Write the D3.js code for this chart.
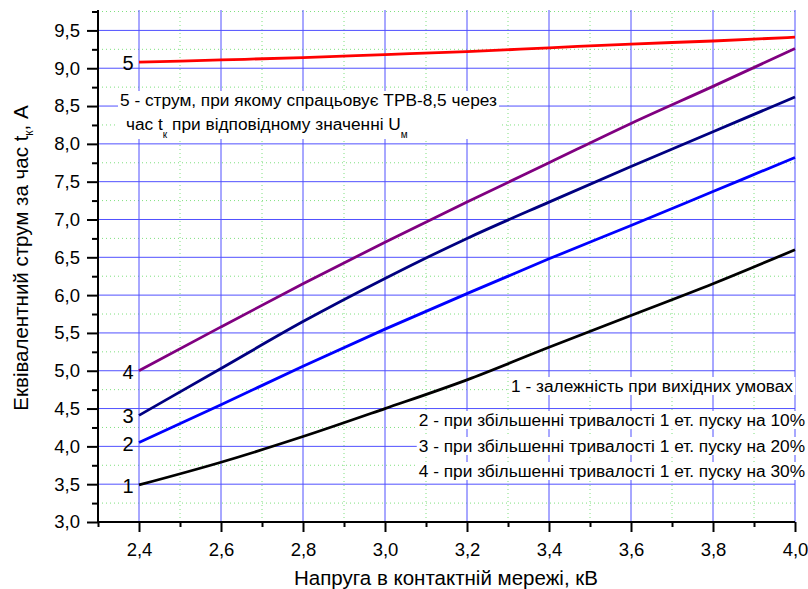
<!DOCTYPE html>
<html>
<head>
<meta charset="utf-8">
<script src="https://cdn.jsdelivr.net/npm/d3@7"></script>
<style>
    body { margin: 0; background: #fff; }
    svg { display: block; font-family: "Liberation Sans", Arial, sans-serif; }
</style>
</head>
<body>
<div id="chart"></div>
<script>
// data
const voltage = [2.4, 2.6, 2.8, 3.0, 3.2, 3.4, 3.6, 3.8, 4.0];
const current1 = [3.49, 3.79, 4.13, 4.50, 4.88, 5.31, 5.73, 6.15, 6.60];
const current2 = [4.05, 4.55, 5.06, 5.55, 6.02, 6.48, 6.92, 7.37, 7.82];
const current3 = [4.41, 5.03, 5.65, 6.22, 6.75, 7.23, 7.70, 8.16, 8.62];
const current4 = [5.00, 5.58, 6.15, 6.70, 7.23, 7.75, 8.27, 8.76, 9.26];
const current5 = [9.08, 9.11, 9.14, 9.18, 9.22, 9.27, 9.32, 9.36, 9.41];

const seriesNames = ["1", "2", "3", "4", "5"];
const seriesValues = [current1, current2, current3, current4, current5];
const seriesColors = ["#000000", "#0000ff", "#000080", "#800080", "#ff0000"];

const xTicks = [2.4, 2.6, 2.8, 3.0, 3.2, 3.4, 3.6, 3.8, 4.0];
const xMinorTicks = [2.3, 2.5, 2.7, 2.9, 3.1, 3.3, 3.5, 3.7, 3.9];
const yTicks = [3.0, 3.5, 4.0, 4.5, 5.0, 5.5, 6.0, 6.5, 7.0, 7.5, 8.0, 8.5, 9.0, 9.5];
const yMinorTicks = [3.25, 3.75, 4.25, 4.75, 5.25, 5.75, 6.25, 6.75, 7.25, 7.75, 8.25, 8.75, 9.25, 9.75];

const legendLines = [
    "1 - залежність при вихідних умовах",
    "2 - при збільшенні тривалості 1 ет. пуску на 10%",
    "3 - при збільшенні тривалості 1 ет. пуску на 20%",
    "4 - при збільшенні тривалості 1 ет. пуску на 30%",
];

const width = 808;
const height = 589;
const marginTop = 10;
const marginRight = 13;
const marginBottom = 67;
const marginLeft = 98;

const fmt = (d) => d3.format(".1f")(d).replace(".", ",");

const x = d3.scaleLinear()
    .domain([2.3, 4.0])
    .range([marginLeft, width - marginRight]);

const y = d3.scaleLinear()
    .domain([3.0, 9.77])
    .range([height - marginBottom, marginTop]);

const svg = d3.select("#chart")
    .append("svg")
    .attr("width", width)
    .attr("height", height);

// minor grid (green dotted)
svg.append("g")
    .selectAll("line")
    .data(xMinorTicks.filter((d) => d > 2.35))
    .join("line")
    .attr("x1", (d) => x(d))
    .attr("x2", (d) => x(d))
    .attr("y1", y.range()[0])
    .attr("y2", y.range()[1])
    .attr("stroke", "#7fe07f")
    .attr("stroke-dasharray", "1,3");

svg.append("g")
    .selectAll("line")
    .data(yMinorTicks)
    .join("line")
    .attr("x1", x.range()[0])
    .attr("x2", x.range()[1])
    .attr("y1", (d) => y(d))
    .attr("y2", (d) => y(d))
    .attr("stroke", "#7fe07f")
    .attr("stroke-dasharray", "1,3");

// major grid (blue)
svg.append("g")
    .selectAll("line")
    .data(xTicks)
    .join("line")
    .attr("x1", (d) => x(d))
    .attr("x2", (d) => x(d))
    .attr("y1", y.range()[0])
    .attr("y2", y.range()[1])
    .attr("stroke", "#5050ff");

svg.append("g")
    .selectAll("line")
    .data(yTicks.filter((d) => d > 3))
    .join("line")
    .attr("x1", x.range()[0])
    .attr("x2", x.range()[1])
    .attr("y1", (d) => y(d))
    .attr("y2", (d) => y(d))
    .attr("stroke", "#5050ff");

// text boxes with white background
function boxedText(g, pad) {
    const b = g.node().getBBox();
    g.insert("rect", ":first-child")
        .attr("x", b.x - pad)
        .attr("y", b.y + 1)
        .attr("width", b.width + pad * 2)
        .attr("height", b.height - 2)
        .attr("fill", "#fff");
}

const note = svg.append("g").attr("font-size", 17.3).attr("fill", "#000");
note.append("text")
    .attr("x", 120)
    .attr("y", 106)
    .text("5 - струм, при якому спрацьовує ТРВ-8,5 через");
const note2 = note.append("text").attr("x", 126).attr("y", 130);
note2.append("tspan").text("час t");
note2.append("tspan").attr("font-size", 10).attr("dy", 8).text("к");
note2.append("tspan").attr("dy", -8).text(" при відповідному значенні U");
note2.append("tspan").attr("font-size", 10).attr("dy", 8).text("м");
boxedText(note, 2);

const legendBaselines = [392, 426, 452, 477];
const legend = svg.append("g").attr("font-size", 17.3).attr("fill", "#000");
legendLines.forEach((t, i) => {
    const g = legend.append("g");
    g.append("text")
        .attr("x", i === 0 ? 793 : 805)
        .attr("y", legendBaselines[i])
        .attr("text-anchor", "end")
        .text(t);
    boxedText(g, 2);
});

// curves
const line = d3.line()
    .x((d) => x(d[0]))
    .y((d) => y(d[1]))
    .curve(d3.curveMonotoneX);

svg.append("g")
    .selectAll("path")
    .data(seriesValues)
    .join("path")
    .attr("d", (vals) => line(vals.map((v, i) => [voltage[i], v])))
    .attr("fill", "none")
    .attr("stroke", (d, i) => seriesColors[i])
    .attr("stroke-width", 2.8);

// curve numbers at the start of each curve
svg.append("g")
    .attr("font-size", 20)
    .selectAll("text")
    .data(seriesValues)
    .join("text")
    .attr("x", x(voltage[0]) - 11)
    .attr("y", (vals) => y(vals[0]) + 8)
    .attr("text-anchor", "middle")
    .text((d, i) => seriesNames[i]);

// axes
const xAxis = svg.append("g")
    .attr("transform", `translate(0,${y.range()[0]})`);
xAxis.call(d3.axisBottom(x).tickValues(xTicks).tickFormat(fmt).tickSize(10).tickPadding(11))
    .call((g) => g.select(".domain").attr("stroke-width", 2).attr("d", `M${x.range()[0]},0H${x.range()[1]}`));
xAxis.append("g")
    .call(d3.axisBottom(x).tickValues(xMinorTicks).tickFormat("").tickSize(5))
    .call((g) => g.select(".domain").remove());

const yAxis = svg.append("g")
    .attr("transform", `translate(${marginLeft},0)`);
yAxis.call(d3.axisLeft(y).tickValues(yTicks).tickFormat(fmt).tickSize(11).tickPadding(7))
    .call((g) => g.select(".domain").attr("stroke-width", 2).attr("d", `M0,${y.range()[0]}V${y.range()[1]}`));
yAxis.append("g")
    .call(d3.axisLeft(y).tickValues(yMinorTicks).tickFormat("").tickSize(6))
    .call((g) => g.select(".domain").remove());

svg.selectAll(".tick line").attr("stroke-width", 2);
svg.selectAll(".tick text")
    .attr("font-size", 18.5)
    .attr("font-family", "Liberation Sans, Arial, sans-serif");

// axis titles
svg.append("text")
    .attr("x", 446)
    .attr("y", 585)
    .attr("text-anchor", "middle")
    .attr("font-size", 20.5)
    .text("Напруга в контактній мережі, кВ");

const yTitle = svg.append("text")
    .attr("transform", "translate(28,258) rotate(-90)")
    .attr("text-anchor", "middle")
    .attr("font-size", 20.5);
yTitle.append("tspan").text("Еквівалентний струм за час t");
yTitle.append("tspan").attr("font-size", 12).attr("dy", 5).text("к");
yTitle.append("tspan").attr("dy", -5).text(",  А");
</script>
</body>
</html>
